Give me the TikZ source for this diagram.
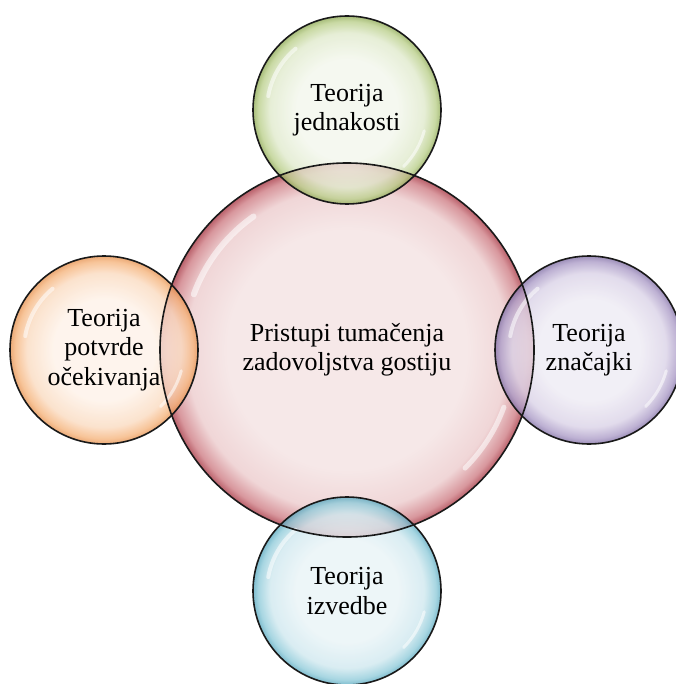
\documentclass[tikz,border=0pt]{standalone}
\usepackage{fontspec}
\setmainfont{Liberation Serif}
\usetikzlibrary{calc}
\definecolor{pkA}{HTML}{F6E8E8}
\definecolor{pkB}{HTML}{F0D6D7}
\definecolor{pkC}{HTML}{D8979D}
\definecolor{pkD}{HTML}{B9606A}
\definecolor{grA}{HTML}{F3F7EC}
\definecolor{grB}{HTML}{E0EACC}
\definecolor{grC}{HTML}{BACF8A}
\definecolor{grD}{HTML}{8FAA55}
\definecolor{orA}{HTML}{FEF2E8}
\definecolor{orB}{HTML}{FBDBC0}
\definecolor{orC}{HTML}{F6B47C}
\definecolor{orD}{HTML}{E69250}
\definecolor{puA}{HTML}{EEEBF4}
\definecolor{puB}{HTML}{DAD2E7}
\definecolor{puC}{HTML}{AB9BC7}
\definecolor{puD}{HTML}{8270A6}
\definecolor{blA}{HTML}{E9F4F7}
\definecolor{blB}{HTML}{CFE8EF}
\definecolor{blC}{HTML}{8FCBDA}
\definecolor{blD}{HTML}{5AA9C0}
\pgfdeclareradialshading{shPink}{\pgfpoint{0bp}{0bp}}{color(0bp)=(pkA); color(16bp)=(pkA); color(21.5bp)=(pkB); color(24bp)=(pkC); color(25bp)=(pkD); color(50bp)=(pkD)}
\pgfdeclareradialshading{shGreen}{\pgfpoint{0bp}{0bp}}{color(0bp)=(grA); color(13.5bp)=(grA); color(20.5bp)=(grB); color(23.6bp)=(grC); color(25bp)=(grD); color(50bp)=(grD)}
\pgfdeclareradialshading{shOrange}{\pgfpoint{0bp}{0bp}}{color(0bp)=(orA); color(13.5bp)=(orA); color(20.5bp)=(orB); color(23.6bp)=(orC); color(25bp)=(orD); color(50bp)=(orD)}
\pgfdeclareradialshading{shPurple}{\pgfpoint{0bp}{0bp}}{color(0bp)=(puA); color(13.5bp)=(puA); color(20.5bp)=(puB); color(23.6bp)=(puC); color(25bp)=(puD); color(50bp)=(puD)}
\pgfdeclareradialshading{shBlue}{\pgfpoint{0bp}{0bp}}{color(0bp)=(blA); color(13.5bp)=(blA); color(20.5bp)=(blB); color(23.6bp)=(blC); color(25bp)=(blD); color(50bp)=(blD)}
\tikzset{
  bubbletxt/.style={circle, inner sep=0pt, align=center, text=black,
    font=\fontsize{26}{29.5}\selectfont},
  corebubble/.style={bubbletxt, minimum size=374pt},
  smallbubble/.style={bubbletxt, minimum size=188pt, fill opacity=0.78, text opacity=1},
  rim/.style={draw=black!90, line width=1.6pt},
  gloss/.style={white, line width=4pt, line cap=round, opacity=0.55}
}
\begin{document}
\begin{tikzpicture}[x=1pt,y=-1pt]
\useasboundingbox (0,0) rectangle (675,684);
\fill[white] (0,0) rectangle (675,684);
% central circle
\node[corebubble, shading=shPink] (core) at (347,350) {Pristupi tumačenja\\zadovoljstva gostiju};
% satellites
\node[smallbubble, shading=shGreen]  (top)    at (347,110) {Teorija\\jednakosti};
\node[smallbubble, shading=shOrange] (left)   at (104,350) {Teorija\\potvrde\\očekivanja};
\node[smallbubble, shading=shPurple] (right)  at (589,350) {Teorija\\značajki};
\node[smallbubble, shading=shBlue]   (bottom) at (347,591) {Teorija\\izvedbe};
% gloss highlights
\draw[gloss, line width=6pt] ($(core)+(200:163)$) arc[start angle=200, end angle=235, radius=163];
\draw[gloss, line width=5pt] ($(core)+(20:167)$) arc[start angle=20, end angle=45, radius=167];
\foreach \n in {top,left,right,bottom}{
  \draw[gloss] ($(\n)+(190:80)$) arc[start angle=190, end angle=230, radius=80];
  \draw[gloss, line width=3pt] ($(\n)+(15:80)$) arc[start angle=15, end angle=45, radius=80];
}
% outlines
\draw[rim] (core.center) circle[radius=187pt];
\foreach \n in {top,left,right,bottom}{
  \draw[rim] (\n.center) circle[radius=94pt];
}
\end{tikzpicture}
\end{document}
